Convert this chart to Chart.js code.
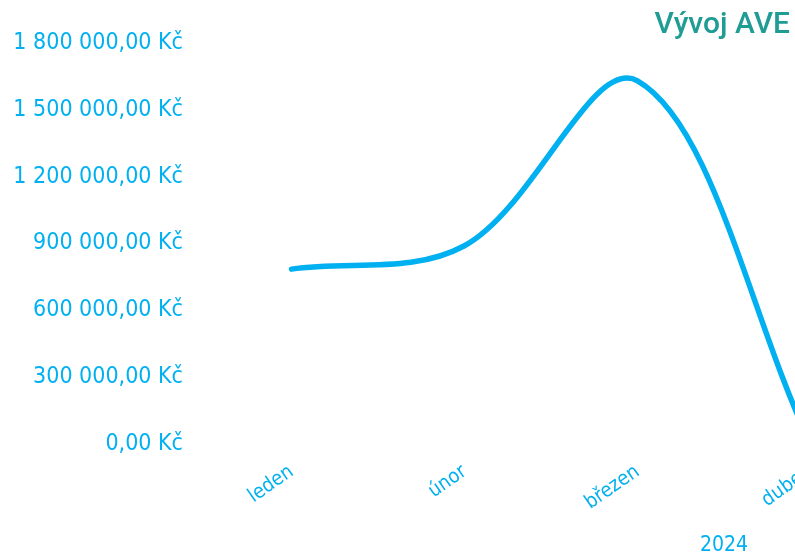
<!DOCTYPE html>
<html lang="cs">
<head>
<meta charset="utf-8">
<title>Vývoj AVE</title>
<script src="https://cdn.jsdelivr.net/npm/chart.js@4.4.1/dist/chart.umd.min.js"></script>
<style>
    body { margin: 0; background: #fff; }
    .frame { position: relative; width: 795px; height: 558px; overflow: hidden; }
    .chart-box { position: absolute; left: 0; top: 0; width: 1248px; height: 558px; }
    .chart-title {
        position: absolute; right: 5px; top: 5px;
        font: 500 30px Roboto, "Open Sans", sans-serif;
        color: #1f9c94;
    }
</style>
</head>
<body>
<div class="frame">
    <div class="chart-box"><canvas id="aveChart"></canvas></div>
    <div class="chart-title">Vývoj AVE</div>
</div>
<script>
// data
const months = ['leden', 'únor', 'březen', 'duben', 'květen', 'červen'];
const aveValues = [785000, 890000, 1630000, 0];
const yearLabel = '2024';

const blue = '#00b0f0';
const fontFamily = '"DejaVu Sans Condensed", "Liberation Sans Narrow", sans-serif';

// 1800000 -> "1 800 000,00 Kč"
function formatKc(value) {
    const parts = Math.abs(value).toFixed(2).split('.');
    const whole = parts[0].replace(/\B(?=(\d{3})+(?!\d))/g, ' ');
    return (value < 0 ? '-' : '') + whole + ',' + parts[1] + ' Kč';
}

document.addEventListener('DOMContentLoaded', function() {
    const ctx = document.getElementById('aveChart');
    new Chart(ctx, {
        type: 'line',
        data: {
            labels: months,
            datasets: [{
                label: 'AVE',
                data: aveValues,
                borderColor: blue,
                borderWidth: 5.5,
                borderCapStyle: 'round',
                tension: 0.35,
                pointRadius: 0,
                fill: false
            }]
        },
        options: {
            responsive: true,
            maintainAspectRatio: false,
            animation: false,
            layout: { padding: { top: 43, left: 0, right: 5, bottom: 0 } },
            plugins: {
                legend: { display: false },
                tooltip: { enabled: false }
            },
            scales: {
                x: {
                    offset: true,
                    grid: { display: false, drawTicks: false },
                    border: { display: false },
                    afterFit: function(scale) { scale.height = 114; },
                    ticks: {
                        color: blue,
                        font: { family: fontFamily, size: 20 },
                        minRotation: 35,
                        maxRotation: 35,
                        padding: 16
                    },
                    title: {
                        display: true,
                        text: yearLabel,
                        color: blue,
                        font: { family: fontFamily, size: 21 },
                        padding: { top: 0, bottom: 0 }
                    }
                },
                y: {
                    min: 0,
                    max: 1800000,
                    grid: { display: false, drawTicks: false },
                    border: { display: false },
                    afterFit: function(scale) { scale.width = 205; },
                    ticks: {
                        stepSize: 300000,
                        color: blue,
                        font: { family: fontFamily, size: 23 },
                        padding: 22,
                        callback: function(value) { return formatKc(value); }
                    }
                }
            }
        }
    });
});
</script>
</body>
</html>
